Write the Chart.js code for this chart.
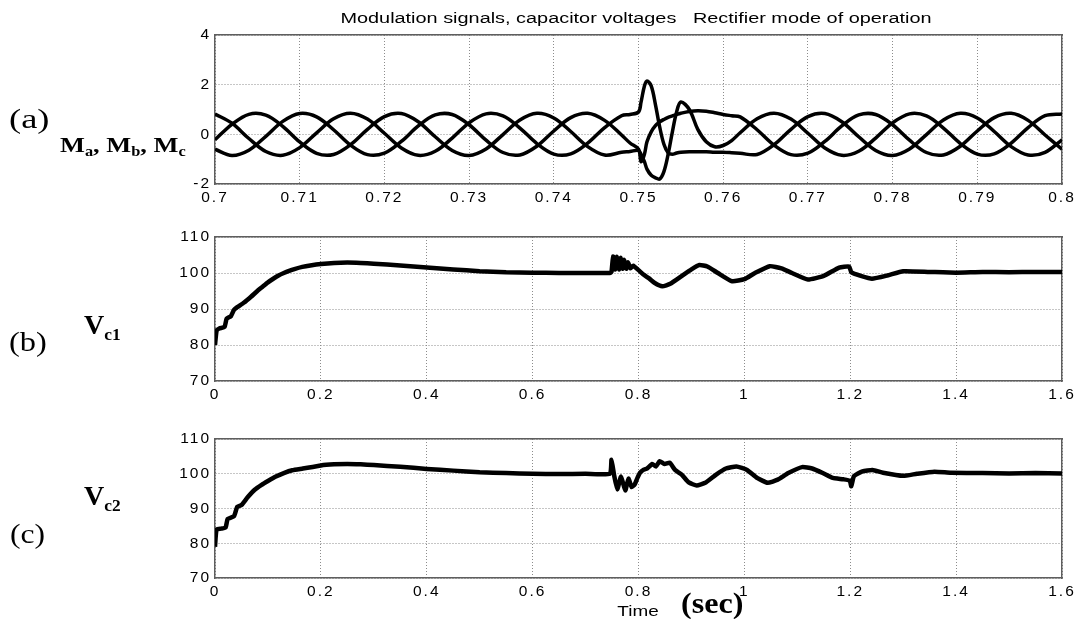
<!DOCTYPE html>
<html>
<head>
<meta charset="utf-8">
<script src="https://cdn.jsdelivr.net/npm/chart.js@4.4.1/dist/chart.umd.min.js"></script>
<style>
  body { margin: 0; background: #fff; width: 1079px; height: 619px; position: relative; overflow: hidden; }
  canvas { position: absolute; left: 0; top: 0; }
  .serif { position: absolute; font-family: "Liberation Serif", "Times New Roman", serif; color: #000; white-space: nowrap; transform-origin: 0 50%; }
  .sans { position: absolute; font-family: "Liberation Sans", Arial, sans-serif; color: #000; white-space: nowrap; }
  .sb { font-size: 0.62em; position: relative; top: 0.32em; }
</style>
</head>
<body>
<canvas id="panelA" width="1079" height="619"></canvas>
<canvas id="panelB" width="1079" height="619"></canvas>
<canvas id="panelC" width="1079" height="619"></canvas>

<div class="sans" style="left:336px;top:10px;width:600px;text-align:center;font-size:14px;line-height:17px;transform:scaleX(1.42);">Modulation signals, capacitor voltages&nbsp;&nbsp;&nbsp;Rectifier mode of operation</div>

<div class="serif" style="left:9px;top:106px;font-size:27px;line-height:27px;transform:scaleX(1.35);">(a)</div>
<div class="serif" style="left:60px;top:134px;font-size:22px;line-height:22px;font-weight:bold;transform:scaleX(1.2);">M<span class="sb">a</span>, M<span class="sb">b</span>, M<span class="sb">c</span></div>

<div class="serif" style="left:9px;top:329px;font-size:27px;line-height:27px;transform:scaleX(1.2);">(b)</div>
<div class="serif" style="left:84px;top:311px;font-size:28px;line-height:28px;font-weight:bold;">V<span class="sb">c1</span></div>

<div class="serif" style="left:10px;top:521px;font-size:27px;line-height:27px;transform:scaleX(1.17);">(c)</div>
<div class="serif" style="left:84px;top:482px;font-size:28px;line-height:28px;font-weight:bold;">V<span class="sb">c2</span></div>

<div class="sans" style="left:588px;top:603px;width:100px;text-align:center;font-size:14px;line-height:16px;transform:scaleX(1.35);">Time</div>
<div class="serif" style="left:681px;top:588px;font-size:30px;line-height:30px;font-weight:bold;transform:scaleX(1.07);">(sec)</div>

<script>
/* ---------- panel (a): modulation signals ---------- */
const maTime = [
    0.700, 0.702, 0.704, 0.706, 0.708, 0.710, 0.712, 0.714, 0.716, 0.718,
    0.720, 0.722, 0.724, 0.726, 0.728, 0.730, 0.732, 0.734, 0.736, 0.738,
    0.740, 0.742, 0.744, 0.746,
    0.748, 0.749, 0.750, 0.7503, 0.7507, 0.751, 0.7515, 0.752, 0.7525, 0.753,
    0.7535, 0.754, 0.7545, 0.755, 0.756, 0.757, 0.758, 0.759, 0.760, 0.761,
    0.762,
    0.764, 0.766, 0.768, 0.770, 0.772, 0.774, 0.776, 0.778, 0.780, 0.782,
    0.784, 0.786, 0.788, 0.790, 0.792, 0.794, 0.796, 0.798, 0.800
];

const maA = [
    0.821, 0.448, -0.168, -0.693, -0.842, -0.535, 0.062, 0.625, 0.850, 0.613,
    0.044, -0.549, -0.844, -0.682, -0.151, 0.463, 0.825, 0.740, 0.254, -0.370,
    -0.794, -0.787, -0.354, 0.271,
    0.749, 0.80, 0.90, 1.3, 1.95, 2.15, 1.95, 1.2, 0.3, -0.4,
    -0.75, -0.8, -0.75, -0.72, -0.7, -0.7, -0.7, -0.72, -0.72, -0.74,
    -0.765,
    -0.811, -0.418, 0.203, 0.713, 0.837, 0.507, -0.098, -0.649, -0.849, -0.588,
    -0.009, 0.575, 0.848, 0.661, 0.115, -0.493, -0.833, -0.723, -0.220
];

const maB = [
    -0.220, 0.402, 0.806, 0.773, 0.321, -0.305, -0.765, -0.811, -0.418, 0.203,
    0.713, 0.837, 0.507, -0.098, -0.649, -0.849, -0.588, -0.009, 0.575, 0.848,
    0.661, 0.115, -0.493, -0.833,
    -0.723, -0.69, -0.65, -0.8, -1.1, -1.4, -1.65, -1.75, -1.8, -1.5,
    -0.8, 0.1, 0.9, 1.3, 1.0, 0.2, -0.3, -0.5, -0.45, -0.25,
    0.062,
    0.625, 0.850, 0.613, 0.044, -0.549, -0.844, -0.682, -0.151, 0.463, 0.825,
    0.740, 0.254, -0.370, -0.794, -0.787, -0.354, 0.271, 0.749, 0.821
];

const maC = [
    -0.601, -0.850, -0.638, -0.080, 0.521, 0.840, 0.703, 0.185, -0.433, -0.816,
    -0.757, -0.288, 0.338, 0.780, 0.800, 0.386, -0.237, -0.732, -0.829, -0.478,
    0.133, 0.672, 0.846, 0.562,
    -0.027, -0.35, -0.6, -1.1, -0.8, -0.3, 0.1, 0.35, 0.5, 0.6,
    0.68, 0.74, 0.8, 0.85, 0.92, 0.95, 0.93, 0.87, 0.8, 0.75,
    0.703,
    0.185, -0.433, -0.816, -0.757, -0.288, 0.338, 0.780, 0.800, 0.386, -0.237,
    -0.732, -0.829, -0.478, 0.133, 0.672, 0.846, 0.562, -0.027, -0.601
];

/* ---------- panel (b): Vc1 ---------- */
const vc1Time = [
    0, 0.003, 0.008, 0.018, 0.022, 0.03, 0.036, 0.042, 0.055, 0.068,
    0.08, 0.09, 0.1, 0.11, 0.12, 0.13, 0.14, 0.15, 0.165, 0.18,
    0.2, 0.225, 0.25, 0.275, 0.3, 0.35, 0.4, 0.45, 0.5, 0.55,
    0.6, 0.65, 0.7, 0.746, 0.749, 0.752, 0.756, 0.759, 0.763, 0.766,
    0.77, 0.773, 0.777, 0.78, 0.785, 0.79, 0.8, 0.81, 0.82, 0.83,
    0.845, 0.86, 0.88, 0.9, 0.915, 0.93, 0.95, 0.977, 1.0, 1.02,
    1.048, 1.07, 1.09, 1.12, 1.15, 1.179, 1.198, 1.202, 1.22, 1.241,
    1.27, 1.3, 1.35, 1.4, 1.45, 1.5, 1.55, 1.6
];

const vc1Val = [
    80, 84, 84.6, 85, 87.3, 88, 89.8, 90.5, 91.8, 93.4,
    95, 96.2, 97.4, 98.4, 99.3, 100, 100.6, 101.1, 101.7, 102.1,
    102.5, 102.8, 102.9, 102.8, 102.6, 102.1, 101.5, 101, 100.5, 100.2,
    100.1, 100, 100, 100, 100.3, 104.6, 101, 104.5, 101, 104.2,
    101.2, 103.7, 101.2, 103, 101.3, 102, 100.8, 99.5, 98.5, 97.3,
    96.3, 97, 99, 101, 102.2, 101.8, 100, 97.7, 98.3, 100,
    101.9, 101.3, 100, 98.2, 99.2, 101.5, 101.8, 100.2, 99.2, 98.4,
    99.3, 100.5, 100.3, 100.1, 100.3, 100.2, 100.3, 100.3
];

/* ---------- panel (c): Vc2 ---------- */
const vc2Time = [
    0, 0.003, 0.012, 0.02, 0.024, 0.036, 0.042, 0.05, 0.062, 0.075,
    0.088, 0.1, 0.115, 0.13, 0.146, 0.166, 0.2, 0.225, 0.25, 0.275,
    0.3, 0.35, 0.4, 0.45, 0.5, 0.55, 0.6, 0.65, 0.7, 0.746,
    0.749, 0.754, 0.76, 0.767, 0.775, 0.781, 0.787, 0.793, 0.798, 0.803,
    0.81, 0.816, 0.826, 0.833, 0.84, 0.849, 0.859, 0.869, 0.882, 0.895,
    0.91, 0.926, 0.946, 0.965, 0.985, 1.005, 1.024, 1.044, 1.063, 1.083,
    1.109, 1.128, 1.148, 1.167, 1.187, 1.199, 1.202, 1.207, 1.223, 1.242,
    1.262, 1.3, 1.326, 1.359, 1.39, 1.45, 1.5, 1.55, 1.6
];

const vc2Val = [
    79, 84, 84.2, 84.5, 87, 87.8, 90.5, 91, 93.3, 95.4,
    96.8, 97.9, 99.2, 100.2, 101, 101.5, 102.4, 102.7, 102.8, 102.7,
    102.5, 102, 101.4, 100.9, 100.4, 100.2, 100, 99.9, 100, 100,
    104, 99.5, 95.5, 99.2, 95.2, 98.6, 96.2, 97, 98.8, 100.3,
    101.2, 101.5, 102.8, 102.1, 103.6, 102.8, 103.2, 101.1, 99.7, 97.5,
    96.6, 97.4, 99.7, 101.5, 102.1, 101.1, 98.8, 97.4, 98.3, 100.2,
    101.9, 101.5, 100.2, 98.8, 98.4, 98, 96.4, 99.3, 100.7, 101.1,
    100.3, 99.4, 100, 100.6, 100.3, 100.2, 100.1, 100.2, 100.1
];

/* ---------- axis ranges ---------- */
const xRangeA = [0.7, 0.8, 0.01];
const yRangeA = [-2, 4, 2];
const xRangeV = [0, 1.6, 0.2];
const yRangeV = [70, 110, 10];

/* ========================================================== */
const W = 1079, H = 619;
const PLOT_LEFT = 215, PLOT_RIGHT = 1062;
const Y_AXIS_W = 60, X_AXIS_H = 24;

const FRAME = "#5e5e5e";
const GRID = "#8c8c8c";

// MATLAB figure text is horizontally stretched in the source image
const wideText = {
    id: "wideText",
    beforeDraw(chart) {
        chart.ctx.letterSpacing = "2px";
    }
};

function pts(t, v) {
    return t.map((x, i) => ({ x: x, y: v[i] }));
}

function panel(id, series, xr, yr, top, bottom, digits, lineW, tens) {

    const tickFont = { family: "'Liberation Sans', Arial, sans-serif", size: 15.5 };

    return new Chart(document.getElementById(id), {
        type: "line",
        data: {
            datasets: series.map(s => ({
                data: s,
                xAxisID: "x",
                yAxisID: "y",
                borderColor: "#000",
                borderWidth: lineW,
                pointRadius: 0,
                tension: tens,
                fill: false
            }))
        },
        options: {
            responsive: false,
            animation: false,
            events: [],
            layout: {
                padding: {
                    left: PLOT_LEFT - Y_AXIS_W,
                    right: W - PLOT_RIGHT,
                    top: top,
                    bottom: H - bottom - X_AXIS_H
                }
            },
            plugins: {
                legend: { display: false },
                tooltip: { enabled: false }
            },
            scales: {
                x: {
                    type: "linear",
                    position: "bottom",
                    min: xr[0], max: xr[1],
                    ticks: {
                        stepSize: xr[2],
                        autoSkip: false,
                        maxRotation: 0,
                        padding: 4,
                        color: "#000",
                        font: tickFont,
                        callback: v => String(+v.toFixed(digits))
                    },
                    grid: { color: GRID, lineWidth: 1, drawTicks: false },
                    border: { color: FRAME, width: 1.5, dash: [1, 2] },
                    afterFit: a => { a.height = X_AXIS_H; }
                },
                xTop: {
                    type: "linear",
                    position: "top",
                    min: xr[0], max: xr[1],
                    ticks: { display: false },
                    grid: { display: false, drawTicks: false },
                    border: { color: FRAME, width: 1.5 },
                    afterFit: a => { a.height = 0; }
                },
                y: {
                    type: "linear",
                    position: "left",
                    min: yr[0], max: yr[1],
                    ticks: {
                        stepSize: yr[2],
                        padding: 4,
                        color: "#000",
                        font: tickFont
                    },
                    grid: { color: GRID, lineWidth: 1, drawTicks: false },
                    border: { color: FRAME, width: 1.5, dash: [1, 2] },
                    afterFit: a => { a.width = Y_AXIS_W; }
                },
                yRight: {
                    type: "linear",
                    position: "right",
                    min: yr[0], max: yr[1],
                    ticks: { display: false },
                    grid: { display: false, drawTicks: false },
                    border: { color: FRAME, width: 1.5 },
                    afterFit: a => { a.width = 0; }
                }
            }
        },
        plugins: [wideText]
    });
}

panel("panelA",
    [pts(maTime, maA), pts(maTime, maB), pts(maTime, maC)],
    xRangeA, yRangeA, 35, 184, 2, 3.5, 0.35);

panel("panelB",
    [pts(vc1Time, vc1Val)],
    xRangeV, yRangeV, 237, 381, 1, 4.5, 0.15);

panel("panelC",
    [pts(vc2Time, vc2Val)],
    xRangeV, yRangeV, 439, 578, 1, 4.5, 0.15);
</script>
</body>
</html>
